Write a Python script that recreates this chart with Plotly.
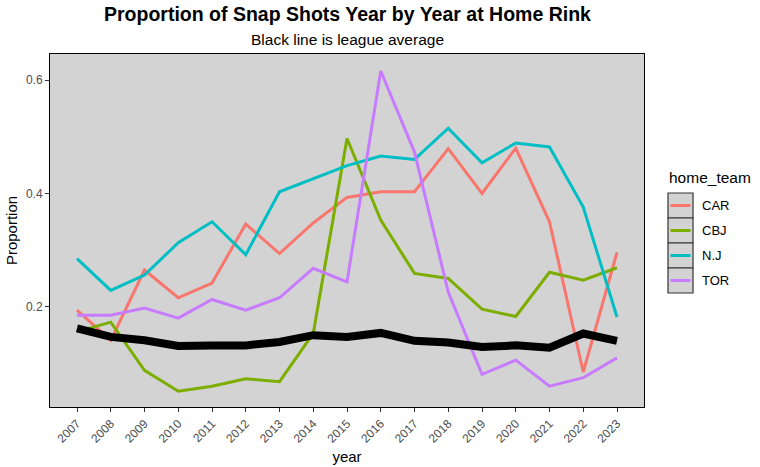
import plotly.graph_objects as go

years = list(range(2007, 2024))
teams = ["CAR", "CBJ", "N.J", "TOR"]
colors = ["#F8766D", "#7CAE00", "#00BFC4", "#C77CFF"]

car = [0.194, 0.141, 0.265, 0.216, 0.242, 0.346, 0.294, 0.348, 0.393, 0.403, 0.403, 0.479, 0.400, 0.480, 0.350, 0.085, 0.296]
cbj = [0.156, 0.173, 0.088, 0.051, 0.060, 0.073, 0.068, 0.153, 0.497, 0.353, 0.259, 0.250, 0.196, 0.183, 0.261, 0.247, 0.269]
nj = [0.285, 0.229, 0.256, 0.313, 0.350, 0.292, 0.403, 0.426, 0.449, 0.466, 0.460, 0.515, 0.454, 0.489, 0.482, 0.376, 0.182]
tor = [0.185, 0.185, 0.198, 0.180, 0.213, 0.194, 0.216, 0.268, 0.244, 0.616, 0.473, 0.226, 0.081, 0.106, 0.060, 0.075, 0.110]
league_avg = [0.162, 0.147, 0.141, 0.131, 0.132, 0.132, 0.138, 0.150, 0.147, 0.154, 0.140, 0.137, 0.129, 0.132, 0.128, 0.153, 0.140]

series = [car, cbj, nj, tor]

W, H = 760, 467
L, R, T, B = 50, 116, 54, 60
PW, PH = W - L - R, H - T - B

def px_x(px):
    return (px - L) / PW

def px_y(py):
    return (H - B - py) / PH

fig = go.Figure()
for name, vals, col in zip(teams, series, colors):
    fig.add_trace(go.Scatter(x=years, y=vals, mode="lines", name=name,
                             line=dict(color=col, width=3), showlegend=False))
fig.add_trace(go.Scatter(x=years, y=league_avg, mode="lines", name="League average",
                         line=dict(color="black", width=8), showlegend=False))

FONT = "Liberation Sans, Arial, sans-serif"
shapes = []
annotations = []

# Title and subtitle
annotations.append(dict(text="<b>Proportion of Snap Shots Year by Year at Home Rink</b>",
                        x=0.5, y=px_y(14), xref="paper", yref="paper", showarrow=False,
                        xanchor="center", yanchor="middle",
                        font=dict(family=FONT, size=19.5, color="black")))
annotations.append(dict(text="Black line is league average",
                        x=0.5, y=px_y(40), xref="paper", yref="paper", showarrow=False,
                        xanchor="center", yanchor="middle",
                        font=dict(family=FONT, size=15.5, color="black")))

# Manual ggplot-style legend
annotations.append(dict(text="home_team", x=px_x(667), y=px_y(177), xref="paper", yref="paper",
                        showarrow=False, xanchor="left", yanchor="middle",
                        font=dict(family=FONT, size=15.5, color="black")))
key_top = 193
key_h = 25
for i, (name, col) in enumerate(zip(teams, colors)):
    y0 = key_top + i * key_h
    shapes.append(dict(type="rect", xref="paper", yref="paper",
                       x0=px_x(668), x1=px_x(693), y0=px_y(y0), y1=px_y(y0 + key_h),
                       fillcolor="#D3D3D3", line=dict(color="#333333", width=1.2), layer="below"))
    shapes.append(dict(type="line", xref="paper", yref="paper",
                       x0=px_x(670.5), x1=px_x(690.5), y0=px_y(y0 + key_h / 2), y1=px_y(y0 + key_h / 2),
                       line=dict(color=col, width=3)))
    annotations.append(dict(text=name, x=px_x(700), y=px_y(y0 + key_h / 2), xref="paper", yref="paper",
                            showarrow=False, xanchor="left", yanchor="middle",
                            font=dict(family=FONT, size=13, color="black")))

fig.update_layout(
    width=W, height=H,
    margin=dict(l=L, r=R, t=T, b=B, pad=0, autoexpand=False),
    paper_bgcolor="white",
    plot_bgcolor="#D3D3D3",
    font=dict(family=FONT),
    showlegend=False,
    shapes=shapes,
    annotations=annotations,
    xaxis=dict(
        range=[2006.2, 2023.8], automargin=False,
        tickmode="array", tickvals=years, ticktext=[str(y) for y in years],
        tickangle=-45, tickfont=dict(family=FONT, size=12, color="#4D4D4D"),
        ticks="outside", ticklen=4, tickcolor="#333333", tickwidth=1,
        showgrid=False, zeroline=False,
        showline=True, mirror=True, linecolor="black", linewidth=1,
        title=dict(text="year", font=dict(family=FONT, size=15, color="black"), standoff=6),
    ),
    yaxis=dict(
        range=[0.0233, 0.646], automargin=False,
        tickmode="array", tickvals=[0.2, 0.4, 0.6], ticktext=["0.2", "0.4", "0.6"],
        tickfont=dict(family=FONT, size=12, color="#4D4D4D"),
        ticks="outside", ticklen=4, tickcolor="#333333", tickwidth=1,
        showgrid=False, zeroline=False,
        showline=True, mirror=True, linecolor="black", linewidth=1,
        title=dict(text="Proportion", font=dict(family=FONT, size=15, color="black"), standoff=4),
    ),
)

fig.write_html("out.html")
